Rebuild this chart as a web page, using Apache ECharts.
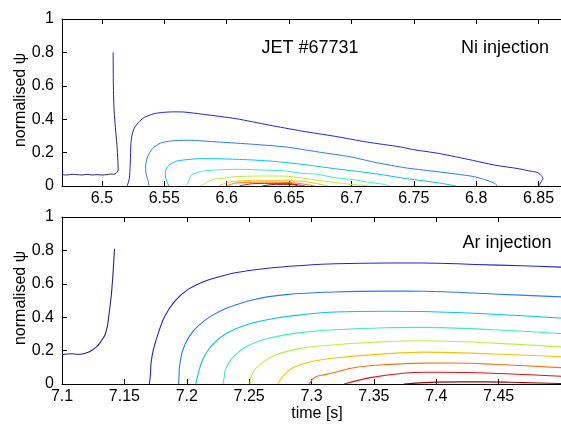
<!DOCTYPE html>
<html>
<head>
<meta charset="utf-8">
<script src="https://cdn.jsdelivr.net/npm/echarts@6/dist/echarts.min.js"></script>
<style>html,body{margin:0;padding:0;background:#fff}#c{width:561px;height:429px}</style>
</head>
<body>
<div id="c"></div>
<script>
// ---- tick labels ----
const niTicks = [6.5, 6.55, 6.6, 6.65, 6.7, 6.75, 6.8, 6.85];
const arTicks = [7.1, 7.15, 7.2, 7.25, 7.3, 7.35, 7.4, 7.45];
const niRange = [6.468, 6.868];
const arRange = [7.1, 7.5];

// ---- contour levels (time [s], normalised psi), Ni injection ----
const niSpike = [[6.468,0.068],[6.472,0.066],[6.476,0.070],[6.480,0.068],[6.484,0.066],[6.488,0.070],[6.492,0.066],[6.496,0.068],[6.500,0.066],[6.504,0.068],[6.507,0.072],[6.5095,0.070],[6.5115,0.078],[6.5130,0.095],[6.5128,0.15],[6.5120,0.25],[6.5108,0.35],[6.5098,0.45],[6.5093,0.55],[6.5091,0.65],[6.5090,0.80]];
const niL1 = [[6.5202,0],[6.5215,0.03],[6.5222,0.06],[6.5228,0.15],[6.5232,0.25],[6.5240,0.30],[6.5258,0.345],[6.5290,0.378],[6.5339,0.410],[6.5418,0.433],[6.5497,0.441],[6.5575,0.444],[6.5655,0.443],[6.5813,0.429],[6.6075,0.403],[6.6338,0.365],[6.6602,0.329],[6.6864,0.298],[6.7127,0.263],[6.7391,0.234],[6.7496,0.218],[6.7700,0.195],[6.7970,0.154],[6.8150,0.125],[6.8337,0.104],[6.8440,0.088],[6.8495,0.080],[6.8527,0.058],[6.8535,0.044],[6.8520,0.024],[6.8503,0]];
const niL2 = [[6.5379,0],[6.5370,0.03],[6.5355,0.07],[6.5350,0.114],[6.5365,0.174],[6.5405,0.224],[6.5470,0.257],[6.5549,0.269],[6.5681,0.274],[6.5944,0.263],[6.6207,0.250],[6.6470,0.234],[6.6733,0.204],[6.6996,0.174],[6.7200,0.140],[6.7443,0.108],[6.7706,0.084],[6.7969,0.058],[6.8087,0.034],[6.8153,0.014],[6.8166,0]];
const niL3 = [[6.5537,0],[6.5520,0.03],[6.5510,0.054],[6.5512,0.094],[6.5537,0.124],[6.5602,0.150],[6.5813,0.164],[6.6075,0.160],[6.6338,0.150],[6.6602,0.130],[6.6864,0.104],[6.7127,0.080],[6.7259,0.066],[6.7443,0.044],[6.7706,0.018],[6.7837,0]];
const niL4 = [[6.5675,0],[6.5690,0.02],[6.5715,0.064],[6.5760,0.080],[6.5839,0.092],[6.6075,0.100],[6.6338,0.094],[6.6470,0.090],[6.6602,0.076],[6.6733,0.070],[6.6864,0.050],[6.6996,0.040],[6.7127,0.024],[6.7259,0.010],[6.7312,0]];
const niL5 = [[6.5786,0],[6.5840,0.02],[6.5892,0.040],[6.5944,0.044],[6.6075,0.056],[6.6338,0.060],[6.6496,0.058],[6.6600,0.048],[6.6733,0.034],[6.6996,0.010],[6.7100,0.004],[6.7154,0]];
const niL6 = [[6.5931,0],[6.6023,0.024],[6.6207,0.034],[6.6470,0.034],[6.6654,0.024],[6.6812,0]];
const niL7 = [[6.5997,0],[6.6075,0.018],[6.6338,0.024],[6.6549,0.018],[6.6707,0]];
const niL8 = [[6.6101,0],[6.6207,0.014],[6.6470,0.016],[6.6628,0]];
const niL9 = [[6.6286,0],[6.6390,0.010],[6.6520,0.010],[6.6575,0]];

// ---- contour levels, Ar injection ----
const arSpike = [[7.100,0.175],[7.104,0.180],[7.1078,0.181],[7.1120,0.178],[7.1162,0.180],[7.1210,0.190],[7.1247,0.205],[7.1280,0.225],[7.1303,0.245],[7.1330,0.275],[7.1345,0.295],[7.1365,0.350],[7.1373,0.395],[7.1393,0.515],[7.1403,0.600],[7.1410,0.674],[7.1421,0.810]];
const arL1 = [[7.1700,0],[7.1708,0.05],[7.1714,0.126],[7.1732,0.205],[7.1772,0.305],[7.1824,0.405],[7.1903,0.495],[7.2008,0.565],[7.2139,0.614],[7.2270,0.644],[7.2402,0.668],[7.2664,0.695],[7.2927,0.710],[7.3189,0.720],[7.3613,0.725],[7.3895,0.725],[7.4317,0.716],[7.4683,0.708],[7.5000,0.700]];
const arL2 = [[7.1935,0],[7.1938,0.05],[7.1942,0.105],[7.1969,0.205],[7.2021,0.285],[7.2087,0.345],[7.2191,0.405],[7.2323,0.455],[7.2533,0.505],[7.2795,0.535],[7.3189,0.551],[7.3600,0.556],[7.3895,0.555],[7.4458,0.539],[7.5000,0.522]];
const arL3 = [[7.2073,0],[7.2085,0.04],[7.2100,0.086],[7.2139,0.165],[7.2218,0.245],[7.2323,0.305],[7.2480,0.355],[7.2717,0.395],[7.2927,0.415],[7.3189,0.431],[7.3600,0.436],[7.3895,0.434],[7.4458,0.418],[7.5000,0.395]];
const arL4 = [[7.2291,0],[7.2300,0.04],[7.2310,0.086],[7.2376,0.165],[7.2480,0.225],[7.2664,0.275],[7.2927,0.309],[7.3189,0.325],[7.3600,0.337],[7.3895,0.339],[7.4458,0.325],[7.5000,0.302]];
const arL5 = [[7.2507,0],[7.2520,0.056],[7.2585,0.116],[7.2717,0.175],[7.2927,0.215],[7.3189,0.235],[7.3500,0.250],[7.3895,0.259],[7.4458,0.245],[7.5000,0.222]];
const arL6 = [[7.2730,0],[7.2769,0.046],[7.2848,0.096],[7.3005,0.135],[7.3189,0.156],[7.3500,0.176],[7.3895,0.191],[7.4458,0.180],[7.5000,0.163]];
const arL7 = [[7.2979,0],[7.3031,0.042],[7.3110,0.056],[7.3189,0.070],[7.3349,0.099],[7.3600,0.116],[7.3895,0.125],[7.4136,0.126],[7.4458,0.118],[7.5000,0.098]];
const arL8 = [[7.3261,0],[7.3472,0.038],[7.3754,0.066],[7.3926,0.070],[7.4035,0.070],[7.4451,0.064],[7.5000,0.046]];
const arL9 = [[7.3740,0],[7.3900,0.008],[7.4005,0.011],[7.4400,0.013],[7.4700,0.008],[7.5000,0.003]];

// ---- level colours (jet) ----
const levelColors = ['#22228f','#2222e0','#2a78ff','#00c0ff','#40f0b0','#b8f040','#ffc000','#ff7010','#e81010','#a00000'];
const niLevels = [niSpike, niL1, niL2, niL3, niL4, niL5, niL6, niL7, niL8, niL9];
const arLevels = [arSpike, arL1, arL2, arL3, arL4, arL5, arL6, arL7, arL8, arL9];

const FONT = '"Liberation Sans", Arial, Helvetica, sans-serif';
const fmt = v => String(+(+v).toFixed(2));

function xAxes(gridIndex, range, ticks) {
  const base = {
    type: 'value', gridIndex, min: range[0], max: range[1],
    axisLine: { show: true, onZero: false, lineStyle: { color: '#000', width: 1 } },
    axisTick: { show: true, inside: true, length: 5, customValues: ticks, lineStyle: { color: '#000', width: 1 } },
    splitLine: { show: false }
  };
  return [
    Object.assign({}, base, { position: 'bottom',
      axisLabel: { show: true, customValues: ticks, formatter: fmt, color: '#000', fontSize: 16, fontFamily: FONT, margin: 5 } }),
    Object.assign({}, base, { position: 'top', axisLabel: { show: false } })
  ];
}
function yAxis(gridIndex) {
  return {
    type: 'value', gridIndex, min: 0, max: 1, interval: 0.2, position: 'left',
    axisLine: { show: true, onZero: false, lineStyle: { color: '#000', width: 1 } },
    axisTick: { show: true, inside: true, length: 5, lineStyle: { color: '#000', width: 1 } },
    axisLabel: { color: '#000', fontSize: 16, fontFamily: FONT, margin: 8, formatter: fmt },
    splitLine: { show: false }
  };
}

const series = [];
niLevels.forEach((d, i) => series.push({
  type: 'line', xAxisIndex: 0, yAxisIndex: 0, data: d, showSymbol: false, symbol: 'none', smooth: 0.25,
  lineStyle: { width: 1, color: levelColors[i] }, itemStyle: { color: levelColors[i] }, animation: false, silent: true
}));
arLevels.forEach((d, i) => series.push({
  type: 'line', xAxisIndex: 2, yAxisIndex: 1, data: d, showSymbol: false, symbol: 'none', smooth: 0.35,
  lineStyle: { width: 1.1, color: levelColors[i] }, itemStyle: { color: levelColors[i] }, animation: false, silent: true
}));

const chart = echarts.init(document.getElementById('c'), null, { renderer: 'canvas' });
chart.setOption({
  backgroundColor: '#fff',
  animation: false,
  grid: [
    { left: 62, top: 19, width: 508, height: 167 },
    { left: 62, top: 217, width: 508, height: 167 }
  ],
  xAxis: [...xAxes(0, niRange, niTicks), ...xAxes(1, arRange, arTicks)],
  yAxis: [yAxis(0), yAxis(1)],
  series,
  graphic: [
    { type: 'text', x: 310, y: 48, style: { text: 'JET #67731', fill: '#000', font: '18px ' + FONT, align: 'center', verticalAlign: 'middle' } },
    { type: 'text', x: 505, y: 48, style: { text: 'Ni injection', fill: '#000', font: '18px ' + FONT, align: 'center', verticalAlign: 'middle' } },
    { type: 'text', x: 507, y: 243, style: { text: 'Ar injection', fill: '#000', font: '18px ' + FONT, align: 'center', verticalAlign: 'middle' } },
    { type: 'text', x: 21, y: 100, rotation: Math.PI / 2, style: { text: 'normalised ψ', fill: '#000', font: '16px ' + FONT, align: 'center', verticalAlign: 'middle' } },
    { type: 'text', x: 21, y: 298, rotation: Math.PI / 2, style: { text: 'normalised ψ', fill: '#000', font: '16px ' + FONT, align: 'center', verticalAlign: 'middle' } },
    { type: 'text', x: 317, y: 414, style: { text: 'time [s]', fill: '#000', font: '16px ' + FONT, align: 'center', verticalAlign: 'middle' } }
  ]
});
</script>
</body>
</html>
